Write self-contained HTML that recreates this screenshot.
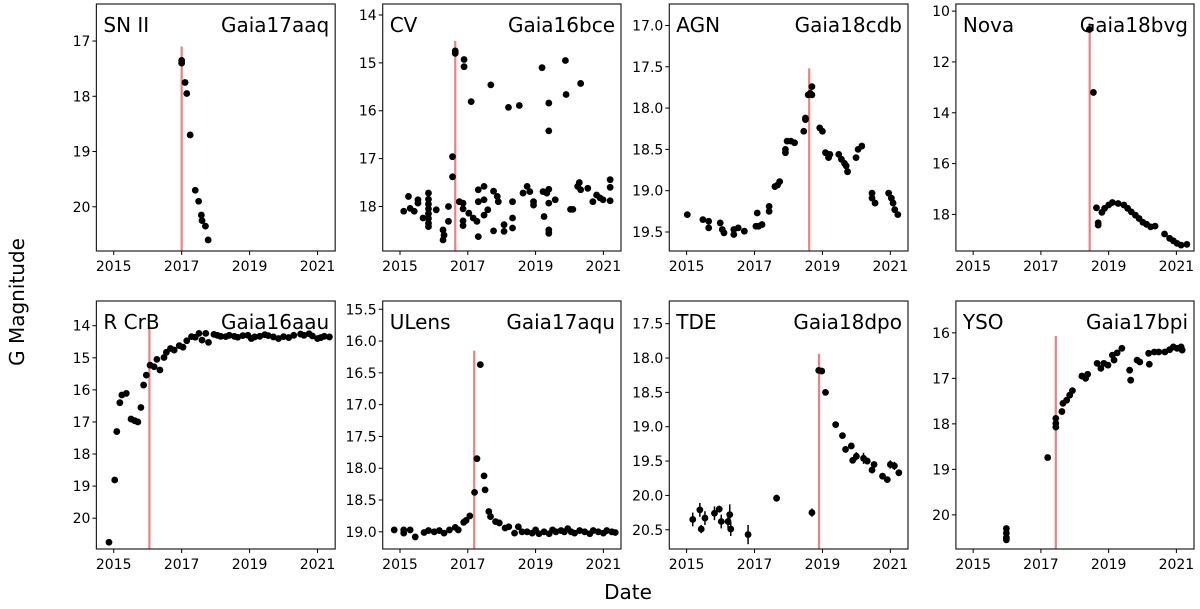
<!DOCTYPE html>
<html><head><meta charset="utf-8">
<style>
html,body{margin:0;padding:0;background:#fff;}
svg text{font-family:"DejaVu Sans","Liberation Sans",sans-serif;fill:#000;}
</style></head>
<body>
<svg id="chart" width="1200" height="604" xmlns="http://www.w3.org/2000/svg">
<text x="0" y="0" font-size="20" text-anchor="middle" transform="translate(24,302) rotate(-90)">G Magnitude</text>
<text x="628" y="599" font-size="20" text-anchor="middle">Date</text>
</svg>
<script>
// ---- data ----
const xTickLabels = [2015, 2017, 2019, 2021];
const sn2Years = [2017.0,2017.0,2017.1,2017.15,2017.25,2017.4,2017.5,2017.58,2017.6,2017.7,2017.78];
const sn2Mags = [17.35,17.4,17.75,17.95,18.7,19.7,19.9,20.15,20.25,20.35,20.6];
const sn2Ticks = [17,18,19,20];
const cvYears = [2016.63,2016.63,2016.89,2016.89,2017.1,2017.68,2018.2,2018.52,2019.19,2019.39,2019.39,2019.88,2019.9,2020.33,2016.55,2016.55,
2015.11,2015.25,2015.3,2015.42,2015.53,2015.53,2015.68,2015.84,2015.84,2015.84,2015.84,2015.84,2015.84,2015.84,2015.84,2016.07,2016.27,2016.27,2016.3,2016.43,2016.43,2016.75,2016.86,2016.86,2016.86,2016.86,2017.03,2017.16,2017.27,2017.31,2017.31,2017.31,2017.48,2017.48,2017.48,2017.59,2017.76,2017.76,2017.87,2017.9,2018.07,2018.07,2018.32,2018.32,2018.32,2018.63,2018.75,2018.83,2018.94,2018.94,2019.25,2019.22,2019.33,2019.39,2019.39,2019.39,2019.39,2019.58,2020.03,2020.1,2020.24,2020.29,2020.33,2020.54,2020.69,2020.8,2020.9,2020.99,2021.2,2021.2,2021.2];
const cvMags = [14.8,14.75,14.93,15.08,15.81,15.46,15.93,15.89,15.1,15.84,16.42,14.95,15.66,15.43,16.96,17.38,
18.1,17.79,18.04,18.1,17.86,17.93,18.24,17.72,17.85,17.95,18.05,18.15,18.25,18.35,18.42,18.07,18.49,18.7,18.6,18.0,18.31,17.9,17.93,18.05,18.3,18.4,18.14,18.24,18.31,17.65,17.9,18.63,17.58,17.86,18.18,18.07,18.51,17.68,17.79,17.9,18.38,18.52,17.9,18.24,18.45,17.72,17.58,17.69,17.9,17.97,18.21,17.69,17.72,17.64,17.93,18.49,18.56,17.86,18.06,18.06,17.58,17.5,17.65,17.62,17.9,17.76,17.82,17.86,17.88,17.44,17.6];
const cvTicks = [14,15,16,17,18];
const agnYears = [2015.02,2015.48,2015.65,2015.65,2015.99,2016.05,2016.1,2016.39,2016.39,2016.52,2016.7,2017.04,2017.12,2017.08,2017.22,2017.43,2017.43,2017.6,2017.68,2017.74,2017.91,2017.91,2017.96,2018.07,2018.18,2018.45,2018.5,2018.5,2018.58,2018.64,2018.69,2018.69,2018.92,2019.0,2019.09,2019.18,2019.22,2019.48,2019.56,2019.65,2019.7,2019.74,2019.99,2020.05,2020.16,2020.46,2020.46,2020.55,2020.95,2021.03,2021.08,2021.13,2021.22];
const agnMags = [19.29,19.35,19.37,19.45,19.39,19.47,19.51,19.47,19.53,19.45,19.49,19.43,19.43,19.27,19.41,19.19,19.25,18.95,18.93,18.89,18.54,18.5,18.4,18.4,18.42,18.28,18.14,18.12,17.84,17.82,17.74,17.84,18.24,18.28,18.54,18.6,18.56,18.56,18.62,18.67,18.7,18.77,18.6,18.5,18.46,19.03,19.09,19.15,19.03,19.09,19.15,19.23,19.29];
const agnTicks = [17.0,17.5,18.0,18.5,19.0,19.5];
const novaYears = [2018.43,2018.55,2018.64,2018.69,2018.69,2018.8,2018.88,2019.0,2019.11,2019.28,2019.45,2019.56,2019.67,2019.79,2019.9,2020.01,2020.12,2020.24,2020.37,2020.65,2020.8,2020.91,2021.02,2021.14,2021.31];
const novaMags = [10.72,13.2,17.74,18.33,18.42,17.92,17.76,17.63,17.53,17.57,17.63,17.76,17.9,18.03,18.16,18.31,18.39,18.49,18.46,18.77,18.94,19.04,19.14,19.21,19.18];
const novaTicks = [10,12,14,16,18];
const rcrbYears = [2014.86,2015.03,2015.09,2015.18,2015.24,2015.37,2015.51,2015.62,2015.71,2015.8,2015.88,2015.96,2016.07,2016.19,2016.27,2016.36,2016.48,2016.55,2016.67,2016.78,2016.93,2017.04,2017.15,2017.29,2017.4,2017.51,2017.6,2017.71,2017.79,
2017.95,2018.05,2018.15,2018.3,2018.4,2018.55,2018.65,2018.8,2018.95,2019.05,2019.15,2019.3,2019.45,2019.55,2019.7,2019.85,2020.0,2020.15,2020.3,2020.5,2020.6,2020.75,2020.85,2021.0,2021.1,2021.2,2021.35];
const rcrbMags = [20.75,18.81,17.3,16.4,16.16,16.11,16.91,16.96,17.0,16.55,15.85,15.54,15.23,15.28,15.05,15.38,14.99,14.83,14.71,14.76,14.62,14.67,14.47,14.34,14.36,14.24,14.45,14.24,14.52,
14.27,14.3,14.33,14.34,14.3,14.33,14.36,14.31,14.3,14.4,14.35,14.33,14.28,14.31,14.35,14.4,14.34,14.37,14.3,14.26,14.3,14.25,14.32,14.4,14.37,14.33,14.35];
const rcrbTicks = [14,15,16,17,18,19,20];
const ulensYears = [2014.83,2015.11,2015.11,2015.3,2015.45,2015.71,2015.84,2016.01,2016.16,2016.3,2016.46,2016.63,2016.72,2016.88,2016.95,2017.06,2017.2,2017.27,2017.37,2017.48,2017.51,2017.62,2017.67,2017.82,2017.93,2018.1,2018.21,2018.38,2018.49,2018.6,
2018.75,2018.9,2019.0,2019.1,2019.25,2019.4,2019.5,2019.6,2019.75,2019.85,2019.95,2020.05,2020.15,2020.3,2020.45,2020.6,2020.7,2020.85,2021.0,2021.1,2021.25,2021.35];
const ulensMags = [18.97,18.97,19.02,18.97,19.08,19.01,18.98,19.0,18.98,19.02,18.97,18.93,18.97,18.85,18.82,18.75,18.38,17.85,16.37,18.12,18.34,18.68,18.76,18.84,18.86,18.94,18.92,19.02,18.92,19.0,
19.0,19.02,18.97,19.03,19.0,19.03,18.97,19.0,18.98,19.0,18.95,19.0,19.02,18.98,19.0,19.03,18.98,19.0,19.02,18.98,19.0,19.01];
const ulensTicks = [15.5,16.0,16.5,17.0,17.5,18.0,18.5,19.0];
const tdeYears = [2015.18,2015.39,2015.43,2015.54,2015.82,2015.96,2016.02,2016.22,2016.27,2016.3,2016.81,2017.65,2018.69,2018.89,2018.98,2019.09,2019.39,2019.59,2019.68,2019.85,2019.89,2020.0,2020.21,2020.32,2020.46,2020.52,2020.77,2020.91,2021.0,2021.12,2021.25];
const tdeMags = [20.35,20.21,20.49,20.33,20.26,20.2,20.38,20.38,20.28,20.49,20.57,20.04,20.25,18.18,18.19,18.5,18.97,19.13,19.33,19.28,19.49,19.43,19.46,19.5,19.63,19.55,19.72,19.77,19.55,19.57,19.67];
const tdeErrors = [0.1,0.1,0.06,0.1,0.1,0.05,0.1,0.1,0.15,0.1,0.14,0.05,0.06,0.03,0.03,0.02,0.02,0.04,0.05,0.03,0.04,0.06,0.08,0.05,0.05,0.04,0.04,0.04,0.06,0.06,0.05];
const tdeTicks = [17.5,18.0,18.5,19.0,19.5,20.0,20.5];
const ysoYears = [2015.98,2015.98,2015.98,2015.98,2017.2,2017.44,2017.44,2017.44,2017.62,2017.65,2017.76,2017.85,2017.93,2018.21,2018.32,2018.38,2018.66,2018.77,2018.86,2018.98,2019.11,2019.16,2019.25,2019.39,2019.62,2019.65,2019.84,2019.92,2020.18,2020.2,2020.35,2020.48,2020.66,2020.8,2020.91,2021.02,2021.14,2021.17];
const ysoMags = [20.3,20.4,20.5,20.55,18.74,17.99,17.88,18.07,17.73,17.55,17.48,17.37,17.27,16.95,17.0,16.91,16.67,16.78,16.67,16.71,16.49,16.6,16.44,16.34,16.82,17.04,16.6,16.64,16.45,16.69,16.42,16.42,16.42,16.37,16.31,16.34,16.31,16.38];
const ysoTicks = [16,17,18,19,20];

// ---- layout (not data) ----
const panels = [
 {n:'sn2',cls:'SN II',id:'Gaia17aaq',L:96.4,R:335.2,T:4,B:251,y0:16.33,y1:20.80,xs:sn2Years,ys:sn2Mags,ticks:sn2Ticks,dec:0,line:[2017.0,17.1]},
 {n:'cv',cls:'CV',id:'Gaia16bce',L:382.7,R:621,T:4,B:251,y0:13.77,y1:18.93,xs:cvYears,ys:cvMags,ticks:cvTicks,dec:0,line:[2016.63,14.54]},
 {n:'agn',cls:'AGN',id:'Gaia18cdb',L:669.3,R:908,T:4,B:251,y0:16.74,y1:19.73,xs:agnYears,ys:agnMags,ticks:agnTicks,dec:1,line:[2018.61,17.52]},
 {n:'nova',cls:'Nova',id:'Gaia18bvg',L:955.9,R:1194,T:4,B:251,y0:9.72,y1:19.44,xs:novaYears,ys:novaMags,ticks:novaTicks,dec:0,line:[2018.44,10.47]},
 {n:'rcrb',cls:'R CrB',id:'Gaia16aau',L:96.4,R:335.2,T:301,B:549,y0:13.23,y1:20.96,xs:rcrbYears,ys:rcrbMags,ticks:rcrbTicks,dec:0,line:[2016.05,14.0]},
 {n:'ulens',cls:'ULens',id:'Gaia17aqu',L:382.7,R:621,T:301,B:549,y0:15.37,y1:19.27,xs:ulensYears,ys:ulensMags,ticks:ulensTicks,dec:1,line:[2017.19,16.15]},
 {n:'tde',cls:'TDE',id:'Gaia18dpo',L:669.3,R:908,T:301,B:549,y0:17.17,y1:20.78,xs:tdeYears,ys:tdeMags,err:tdeErrors,ticks:tdeTicks,dec:1,line:[2018.90,17.94]},
 {n:'yso',cls:'YSO',id:'Gaia17bpi',L:955.9,R:1194,T:301,B:549,y0:15.30,y1:20.75,xs:ysoYears,ys:ysoMags,ticks:ysoTicks,dec:0,line:[2017.44,16.07]}
];
const X0=2014.49, X1=2021.52;
const svg=document.getElementById('chart');
const NS='http://www.w3.org/2000/svg';
function mk(tag,attrs,parent){const e=document.createElementNS(NS,tag);for(const k in attrs)e.setAttribute(k,attrs[k]);parent.appendChild(e);return e;}
panels.forEach(p=>{
  const sx=v=>p.L+(v-X0)/(X1-X0)*(p.R-p.L);
  const sy=v=>p.T+(v-p.y0)/(p.y1-p.y0)*(p.B-p.T);
  const g=mk('g',{},svg);
  
  
  const ln=mk('line',{x1:sx(p.line[0]),x2:sx(p.line[0]),y1:sy(p.line[1]),y2:p.B,stroke:'#f08080','stroke-width':2.2},g);
  
  
  p.xs.forEach((x,i)=>{
    if(p.err){
      const eb=mk('line',{x1:sx(x),x2:sx(x),y1:sy(p.ys[i]-p.err[i]),y2:sy(p.ys[i]+p.err[i]),stroke:'#000','stroke-width':1.5},g);
      
      
    }
    const c=mk('circle',{cx:sx(x),cy:sy(p.ys[i]),r:3.4,fill:'#000'},g);
    
    
  });
  const fr=mk('rect',{x:p.L,y:p.T,width:p.R-p.L,height:p.B-p.T,fill:'none',stroke:'#222','stroke-width':1.2},g);
  
  
  xTickLabels.forEach(t=>{
    mk('line',{x1:sx(t),x2:sx(t),y1:p.B,y2:p.B+4,stroke:'#000','stroke-width':1},g);
    const tx=mk('text',{x:sx(t),y:p.B+20,'font-size':14,'text-anchor':'middle'},g);
    tx.textContent=t;
    
    
  });
  p.ticks.forEach(t=>{
    mk('line',{x1:p.L-4,x2:p.L,y1:sy(t),y2:sy(t),stroke:'#000','stroke-width':1},g);
    const tx=mk('text',{x:p.L-6,y:sy(t)+5,'font-size':14,'text-anchor':'end'},g);
    tx.textContent=t.toFixed(p.dec);
    
    
  });
  const t1=mk('text',{x:p.L+7,y:p.T+28,'font-size':20},g);
  t1.textContent=p.cls;
  
  
  const t2=mk('text',{x:p.R-6,y:p.T+28,'font-size':20,'text-anchor':'end'},g);
  t2.textContent=p.id;
  
  
});
</script>
</body></html>
